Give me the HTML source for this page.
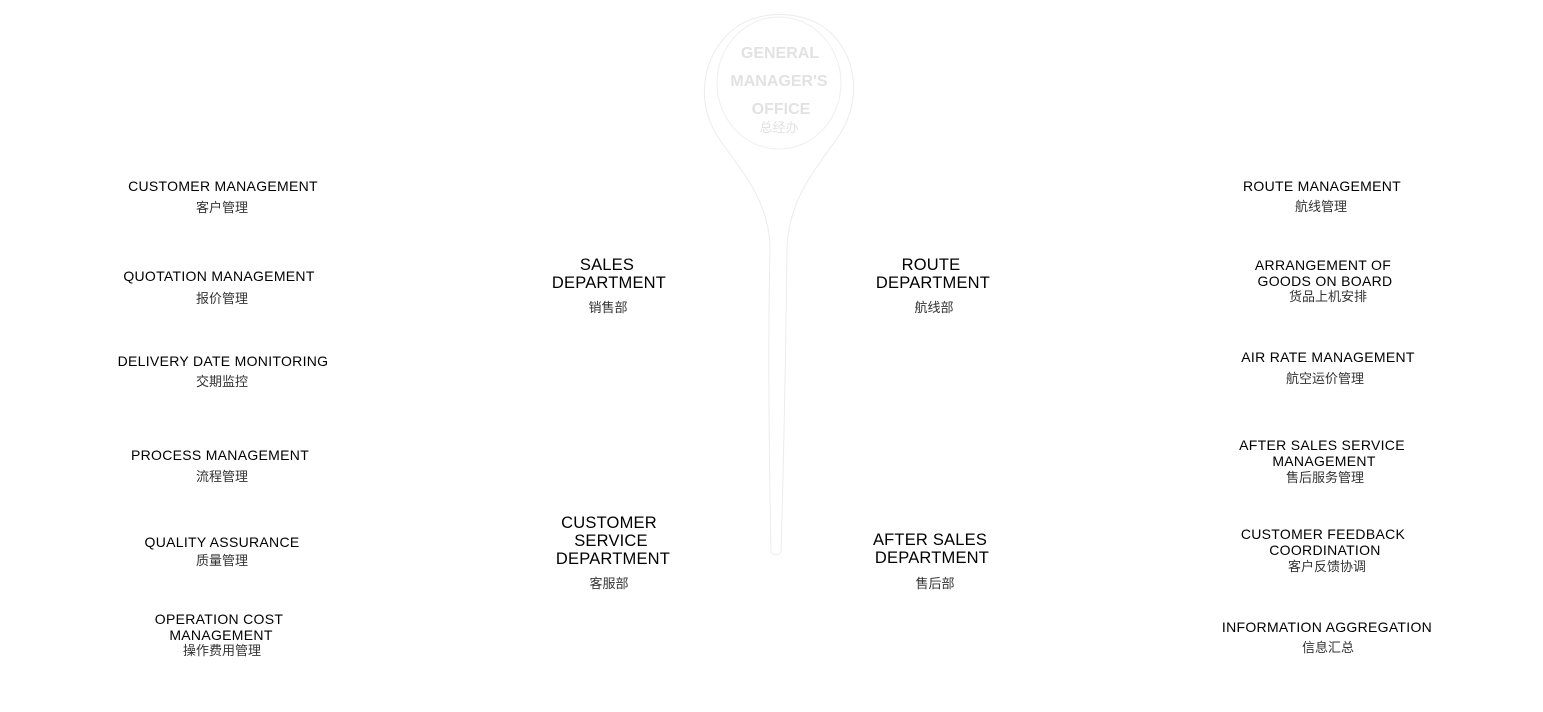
<!DOCTYPE html>
<html><head><meta charset="utf-8"><style>
html,body{margin:0;padding:0;background:#fff;}
svg{display:block}
text{font-family:"Liberation Sans","Noto Sans CJK SC",sans-serif;text-anchor:middle;fill:#000}
.i{font-size:14px;letter-spacing:0.3px}
.c{font-size:13px;fill:#333}
.d{font-size:16.5px;letter-spacing:0.2px}
.g{font-size:16px;fill:#e2e2e2;font-weight:bold}
</style></head><body>
<svg width="1543" height="712" viewBox="0 0 1543 712">
<path d="M771,552 C769,450 768,330 770,250 C770,200 740,170 720,140 C695,105 700,55 735,28 C760,10 800,10 825,28 C860,55 862,105 836,140 C815,170 788,200 787,250 C786,330 784,450 781,552 C779,556 773,556 771,552 Z" fill="none" stroke="#ececec" stroke-width="1"/>
<ellipse cx="779" cy="83" rx="62" ry="66" fill="none" stroke="#efefef" stroke-width="1"/>
<text class="g" x="780" y="58">GENERAL</text>
<text class="g" x="779" y="86">MANAGER'S</text>
<text class="g" x="781" y="114">OFFICE</text>
<text class="c" x="779" y="132" style="fill:#e2e2e2">总经办</text>

<text class="d" x="607" y="270">SALES</text>
<text class="d" x="609" y="288">DEPARTMENT</text>
<text class="c" x="608" y="312">销售部</text>
<text class="d" x="931" y="270">ROUTE</text>
<text class="d" x="933" y="288">DEPARTMENT</text>
<text class="c" x="934" y="312">航线部</text>
<text class="d" x="609" y="528">CUSTOMER</text>
<text class="d" x="611" y="546">SERVICE</text>
<text class="d" x="613" y="564">DEPARTMENT</text>
<text class="c" x="609" y="588">客服部</text>
<text class="d" x="930" y="545">AFTER SALES</text>
<text class="d" x="932" y="563">DEPARTMENT</text>
<text class="c" x="935" y="588">售后部</text>

<text class="i" x="223" y="191">CUSTOMER MANAGEMENT</text>
<text class="c" x="222" y="212">客户管理</text>
<text class="i" x="219" y="281">QUOTATION MANAGEMENT</text>
<text class="c" x="222" y="303">报价管理</text>
<text class="i" x="223" y="366">DELIVERY DATE MONITORING</text>
<text class="c" x="222" y="386">交期监控</text>
<text class="i" x="220" y="460">PROCESS MANAGEMENT</text>
<text class="c" x="222" y="481">流程管理</text>
<text class="i" x="222" y="547">QUALITY ASSURANCE</text>
<text class="c" x="222" y="565">质量管理</text>
<text class="i" x="219" y="624">OPERATION COST</text>
<text class="i" x="221" y="640">MANAGEMENT</text>
<text class="c" x="222" y="655">操作费用管理</text>

<text class="i" x="1322" y="191">ROUTE MANAGEMENT</text>
<text class="c" x="1321" y="211">航线管理</text>
<text class="i" x="1323" y="270">ARRANGEMENT OF</text>
<text class="i" x="1325" y="286">GOODS ON BOARD</text>
<text class="c" x="1328" y="301">货品上机安排</text>
<text class="i" x="1328" y="362">AIR RATE MANAGEMENT</text>
<text class="c" x="1325" y="383">航空运价管理</text>
<text class="i" x="1322" y="450">AFTER SALES SERVICE</text>
<text class="i" x="1324" y="466">MANAGEMENT</text>
<text class="c" x="1325" y="482">售后服务管理</text>
<text class="i" x="1323" y="539">CUSTOMER FEEDBACK</text>
<text class="i" x="1325" y="555">COORDINATION</text>
<text class="c" x="1327" y="571">客户反馈协调</text>
<text class="i" x="1327" y="632">INFORMATION AGGREGATION</text>
<text class="c" x="1328" y="652">信息汇总</text>
</svg>
</body></html>
